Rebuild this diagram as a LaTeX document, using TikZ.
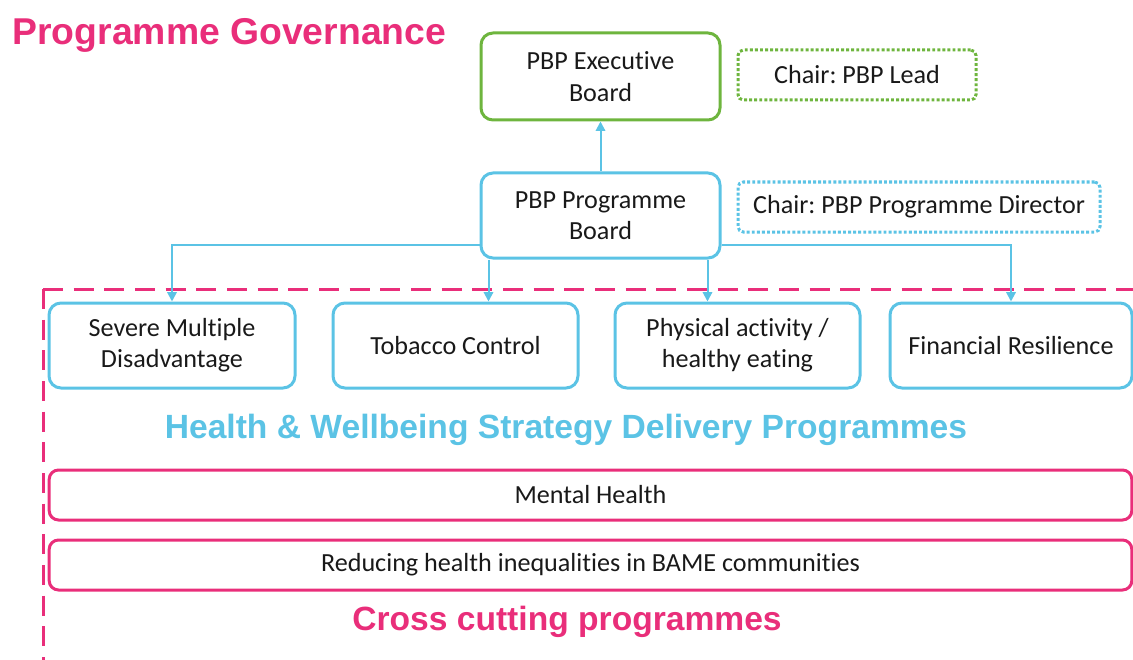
\documentclass[tikz,border=0pt]{standalone}
\usepackage{fontspec}
\setmainfont{Carlito}[Ligatures=NoCommon]
\newfontfamily\headfont{Liberation Sans}
\usetikzlibrary{arrows.meta,calc}
\definecolor{govpink}{RGB}{233,46,122}
\definecolor{govblue}{RGB}{91,195,229}
\definecolor{govgreen}{RGB}{110,181,62}
\definecolor{govtext}{RGB}{25,25,25}
\tikzset{every picture/.style={line width=0.75pt}}
\frenchspacing

\begin{document}
\begin{tikzpicture}[x=0.75pt,y=0.75pt,yscale=-1,xscale=1,
  board/.style={draw, rounded corners=9pt, line width=2.25pt, align=center, text=govtext, font=\fontsize{19.6}{23.5}\selectfont, inner sep=0pt},
  chair/.style={board, dash pattern=on 2.2pt off 1.6pt, rounded corners=4pt, minimum height=37.5pt},
  crossbox/.style={board, draw=govpink, minimum width=812pt, minimum height=37.5pt, rounded corners=7pt},
  progbox/.style={board, draw=govblue, minimum height=63.75pt},
  link/.style={draw=govblue, line width=1.5pt, -{Triangle[length=7pt,width=7pt]}},
  heading/.style={font=\headfont\fontsize{25.2}{30}\bfseries, inner sep=0pt}
]
\clip (0,0) rectangle (1133,660);

% Text Node
\draw (12,45) node [anchor=base west][heading, font=\headfont\fontsize{28}{32}\bfseries, text=govpink] (title) {Programme Governance};

%Rounded Rect
\draw (600.5,76.5) node [board, draw=govgreen, minimum width=179.25pt, minimum height=65.25pt] (exec) {PBP Executive\\Board};
%Rounded Rect
\draw (857,75) node [chair, draw=govgreen, minimum width=178.5pt] (leadchair) {Chair: PBP Lead};
%Rounded Rect
\draw (600.5,215.5) node [board, draw=govblue, minimum width=179.25pt, minimum height=63.75pt] (ppb) {PBP Programme\\Board};
%Rounded Rect
\draw (919,207) node [chair, draw=govblue, minimum width=271.5pt] (dirchair) {Chair: PBP Programme Director};

%Dashed frame
\draw [govpink, line width=2.25pt, dash pattern=on 15pt off 8pt] (43,289) -- (1150,289);
\draw [govpink, line width=2.25pt, dash pattern=on 15pt off 8pt] (43,289) -- (43,700);

%Rounded Rect
\draw (172,345.5) node [progbox, minimum width=184.5pt] (smd) {Severe Multiple\\Disadvantage};
%Rounded Rect
\draw (455.5,345.5) node [progbox, minimum width=183.75pt] (tc) {Tobacco Control};
%Rounded Rect
\draw (737.5,345.5) node [progbox, minimum width=183.75pt] (pae) {Physical activity /\\healthy eating};
%Rounded Rect
\draw (1011,345.5) node [progbox, minimum width=181.5pt] (fr) {Financial Resilience};

% Text Node
\draw (566,430) node [heading, text=govblue] (hwb) {Health \& Wellbeing Strategy Delivery Programmes};

%Rounded Rect
\draw (590.5,495) node [crossbox] (mh) {Mental Health};
%Rounded Rect
\draw (590.5,565) node [crossbox] (bame) {Reducing health inequalities in BAME communities};

% Text Node
\draw (567,622) node [heading, text=govpink] (cross) {Cross cutting programmes};

%Straight Lines
\coordinate (ppbleft) at ($(ppb.south west)+(0,-15)$);
\coordinate (ppbright) at ($(ppb.south east)+(0,-15)$);
\coordinate (ppbtc) at ($(ppb.south west)+(9,0)$);
\coordinate (ppbpae) at ($(ppb.south east)+(-14,0)$);
\draw [link] (ppb) -- (exec);
\draw [link] (ppbleft) -| (smd.north);
\draw [link] (ppbtc) -- (ppbtc |- tc.north);
\draw [link] (ppbpae) -- (ppbpae |- pae.north);
\draw [link] (ppbright) -| (fr.north);

\end{tikzpicture}
\end{document}
